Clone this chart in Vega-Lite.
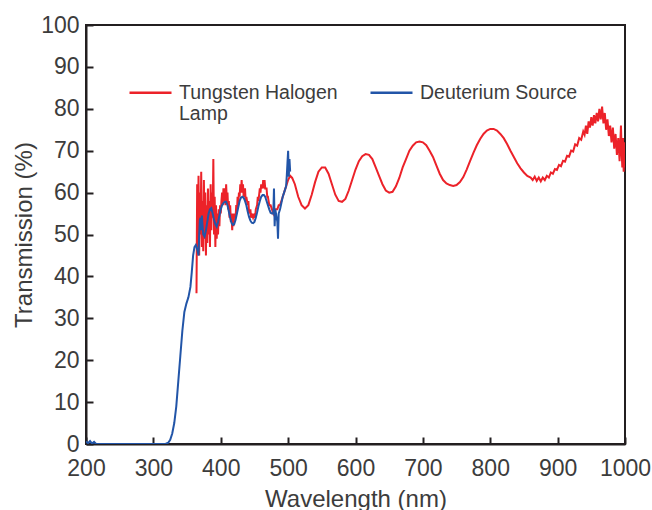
{
  "$schema": "https://vega.github.io/schema/vega-lite/v6.json",
  "autosize": {"type": "none"},
  "width": 539,
  "height": 419,
  "padding": {"left": 86, "top": 25, "right": 27, "bottom": 66},
  "background": "white",
  "config": {
    "view": {"stroke": "#231f20", "strokeWidth": 2},
    "font": "Liberation Sans"
  },
  "datasets": {
    "red": [
      {"w":364,"t":36},{"w":365,"t":62},{"w":366,"t":47},{"w":367,"t":64},{"w":368,"t":45},{"w":369,"t":60},{"w":370,"t":50},{"w":371,"t":65},{"w":372,"t":47},{"w":373,"t":58},{"w":374,"t":46},{"w":375,"t":63},{"w":376,"t":49},{"w":377,"t":60},{"w":378,"t":45},{"w":379,"t":57},{"w":380,"t":48},{"w":381,"t":61},{"w":382,"t":50},{"w":383,"t":58},{"w":384,"t":47},{"w":385,"t":62},{"w":386,"t":51},{"w":387,"t":60},{"w":388,"t":54},{"w":389,"t":68},{"w":390,"t":50},{"w":391,"t":59},{"w":392,"t":47},{"w":393,"t":57},{"w":394,"t":49},{"w":395,"t":55},{"w":396,"t":50},{"w":397,"t":56},{"w":398,"t":52},{"w":399,"t":57},{"w":400,"t":55},{"w":401,"t":58},
      {"w":402,"t":60},{"w":403,"t":57},{"w":404,"t":61},{"w":405,"t":58},{"w":406,"t":61},{"w":407,"t":57},{"w":408,"t":62},{"w":409,"t":58},{"w":410,"t":60},{"w":411,"t":56},{"w":412,"t":58},{"w":413,"t":54},{"w":414,"t":57},{"w":415,"t":53},{"w":416,"t":55},{"w":417,"t":51},{"w":418,"t":55},{"w":419,"t":52},{"w":420,"t":55},{"w":422,"t":54},{"w":423,"t":57},{"w":424,"t":55},{"w":425,"t":59},{"w":426,"t":57},{"w":427,"t":60},{"w":428,"t":59},{"w":429,"t":62},{"w":430,"t":60},{"w":431,"t":63},{"w":432,"t":60},{"w":433,"t":62},{"w":434,"t":59},{"w":436,"t":61},{"w":437,"t":58},{"w":438,"t":59},{"w":440,"t":57},{"w":441,"t":58},{"w":442,"t":55},{"w":444,"t":56},{"w":445,"t":54},{"w":446,"t":55},{"w":448,"t":54},{"w":450,"t":55},{"w":451,"t":54},{"w":452,"t":56},{"w":454,"t":57},{"w":455,"t":59},{"w":456,"t":58},{"w":458,"t":61},{"w":459,"t":60},{"w":460,"t":62},{"w":462,"t":61},{"w":463,"t":63},{"w":464,"t":61},{"w":465,"t":63},{"w":466,"t":61},{"w":468,"t":61},{"w":469,"t":59},{"w":470,"t":59},{"w":472,"t":57},{"w":474,"t":57},{"w":476,"t":56},{"w":478,"t":55},{"w":480,"t":56},{"w":482,"t":56},{"w":484,"t":56},{"w":486,"t":57},{"w":488,"t":57},{"w":490,"t":58},{"w":492,"t":59},{"w":494,"t":60},{"w":496,"t":61},{"w":498,"t":62},{"w":500,"t":63},
      {"w":503,"t":64},{"w":506,"t":63.5},{"w":510,"t":62},{"w":515,"t":59},{"w":520,"t":57},{"w":525,"t":56.2},{"w":530,"t":57},{"w":535,"t":59.5},{"w":540,"t":62.5},{"w":545,"t":65},{"w":550,"t":66},{"w":555,"t":66},{"w":560,"t":64.5},{"w":565,"t":62},{"w":570,"t":59.5},{"w":575,"t":58},{"w":580,"t":57.8},{"w":585,"t":58.5},{"w":590,"t":60.5},{"w":595,"t":63},{"w":600,"t":65.5},{"w":605,"t":67.5},{"w":610,"t":68.7},{"w":615,"t":69.2},{"w":620,"t":69},{"w":625,"t":68},{"w":630,"t":66},{"w":635,"t":64},{"w":640,"t":62},{"w":645,"t":60.5},{"w":650,"t":60},{"w":655,"t":60.2},{"w":660,"t":61.5},{"w":665,"t":63.5},{"w":670,"t":66},{"w":675,"t":68},{"w":680,"t":70},{"w":685,"t":71.2},{"w":690,"t":72},{"w":695,"t":72.2},{"w":700,"t":72},{"w":705,"t":71.3},{"w":710,"t":70},{"w":715,"t":68.5},{"w":720,"t":66.5},{"w":725,"t":64.5},{"w":730,"t":63},{"w":735,"t":62.2},{"w":740,"t":61.8},{"w":745,"t":61.6},{"w":750,"t":61.8},{"w":755,"t":62.5},{"w":760,"t":63.7},{"w":765,"t":65.5},{"w":770,"t":67.5},{"w":775,"t":69.5},{"w":780,"t":71.3},{"w":785,"t":72.8},{"w":790,"t":74},{"w":795,"t":74.8},{"w":800,"t":75.2},{"w":805,"t":75.2},{"w":810,"t":74.8},{"w":815,"t":74},{"w":820,"t":73},{"w":825,"t":71.6},{"w":830,"t":70},{"w":835,"t":68.5},{"w":840,"t":67},{"w":845,"t":65.8},{"w":850,"t":64.8},{"w":855,"t":64},{"w":860,"t":63.6},{"w":863,"t":63},{"w":866,"t":63.8},{"w":869,"t":62.8},{"w":872,"t":63.6},{"w":875,"t":62.7},{"w":878,"t":63.6},{"w":881,"t":63},{"w":884,"t":64},{"w":887,"t":63.6},{"w":890,"t":64.8},{"w":893,"t":64.5},{"w":896,"t":65.6},{"w":899,"t":65.4},{"w":902,"t":66.6},{"w":905,"t":66.3},{"w":908,"t":67.6},{"w":911,"t":67.4},{"w":914,"t":68.8},{"w":917,"t":68.6},{"w":920,"t":70},{"w":923,"t":69.8},{"w":926,"t":71.5},{"w":929,"t":71.2},{"w":932,"t":73},{"w":935,"t":72.6},{"w":938,"t":74.6},{"w":940,"t":73.8},
      {"w":942,"t":76},{"w":944,"t":74},{"w":946,"t":77},{"w":948,"t":75.5},{"w":950,"t":78},{"w":952,"t":76},{"w":954,"t":78.5},{"w":956,"t":76.5},{"w":958,"t":79},{"w":960,"t":77},{"w":962,"t":80},{"w":964,"t":77.5},{"w":966,"t":80.5},{"w":968,"t":76.5},{"w":970,"t":79},{"w":972,"t":75},{"w":974,"t":77.5},{"w":976,"t":73.5},{"w":978,"t":76},{"w":980,"t":72},{"w":982,"t":75.5},{"w":984,"t":70.5},{"w":986,"t":74},{"w":988,"t":69},{"w":990,"t":73},{"w":992,"t":67.5},{"w":994,"t":76},{"w":995,"t":70},{"w":996,"t":66},{"w":997,"t":73},{"w":998,"t":65},{"w":999,"t":72},{"w":1000,"t":66}
    ],
    "blue": [
      {"w":200,"t":0.6},{"w":203,"t":0.2},{"w":206,"t":0.7},{"w":209,"t":0.1},{"w":212,"t":0.5},{"w":215,"t":0},{"w":220,"t":0},{"w":300,"t":0},{"w":318,"t":0},{"w":322,"t":0.3},{"w":325,"t":1},{"w":328,"t":2.5},{"w":331,"t":5},{"w":334,"t":9},{"w":337,"t":15},{"w":340,"t":21},{"w":343,"t":27},{"w":346,"t":31.5},{"w":349,"t":33.5},{"w":352,"t":35},{"w":355,"t":37.5},{"w":357,"t":41},{"w":359,"t":45},{"w":361,"t":47},{"w":363,"t":47.5},{"w":365,"t":46.5},{"w":367,"t":45},{"w":368,"t":50},{"w":369,"t":53.5},{"w":370,"t":54},{"w":371,"t":51},{"w":372,"t":54.5},{"w":373,"t":52},{"w":374,"t":50},{"w":376,"t":49.5},{"w":378,"t":51},{"w":380,"t":53},{"w":382,"t":55},{"w":384,"t":56},{"w":386,"t":56.3},{"w":388,"t":55},{"w":390,"t":53.5},{"w":392,"t":52.5},{"w":394,"t":51.9},{"w":396,"t":53},{"w":398,"t":54.5},{"w":400,"t":56},{"w":402,"t":57},{"w":404,"t":57.5},{"w":406,"t":57.8},{"w":408,"t":57.8},{"w":410,"t":57},{"w":412,"t":55.5},{"w":414,"t":54},{"w":416,"t":52.8},{"w":418,"t":52.3},{"w":420,"t":52.5},{"w":422,"t":53.5},{"w":424,"t":55},{"w":426,"t":56.5},{"w":428,"t":58},{"w":430,"t":58.8},{"w":432,"t":59},{"w":434,"t":58.8},{"w":436,"t":58},{"w":438,"t":57},{"w":440,"t":55.5},{"w":442,"t":54.2},{"w":444,"t":53.3},{"w":446,"t":52.8},{"w":448,"t":52.7},{"w":450,"t":53},{"w":452,"t":54},{"w":454,"t":55.3},{"w":456,"t":56.8},{"w":458,"t":58},{"w":460,"t":59},{"w":462,"t":59.4},{"w":464,"t":59.4},{"w":466,"t":59},{"w":468,"t":58},{"w":470,"t":57},{"w":472,"t":56},{"w":474,"t":55.2},{"w":476,"t":55},{"w":478,"t":55},{"w":479,"t":61},{"w":480,"t":52},{"w":481,"t":56},{"w":482,"t":55},{"w":484,"t":53},{"w":485,"t":49},{"w":486,"t":55},{"w":488,"t":56},{"w":490,"t":57.5},{"w":492,"t":59},{"w":494,"t":60},{"w":496,"t":61},{"w":497,"t":61.5},{"w":498,"t":64},{"w":499,"t":67},{"w":500,"t":70},{"w":501,"t":63.8},{"w":502,"t":68},{"w":503,"t":65}
    ]
  },
  "encoding": {
    "x": {
      "field": "w", "type": "quantitative",
      "scale": {"domain": [200, 1000], "nice": false, "zero": false},
      "axis": {
        "title": "Wavelength (nm)", "values": [200,300,400,500,600,700,800,900,1000], "format": "d",
        "grid": false, "domainColor": "#231f20", "domainWidth": 2, "tickColor": "#231f20", "tickWidth": 2, "tickSize": -7,
        "labelFont": "Liberation Sans", "labelFontSize": 23, "labelColor": "#3c3c3c", "labelPadding": 20, "labelFlush": false,
        "titleFont": "Liberation Sans", "titleFontSize": 24, "titleFontWeight": "normal", "titleColor": "#3c3c3c", "titlePadding": 7
      }
    },
    "y": {
      "field": "t", "type": "quantitative",
      "scale": {"domain": [0, 100], "nice": false},
      "axis": {
        "title": "Transmission (%)", "values": [0,10,20,30,40,50,60,70,80,90,100],
        "grid": false, "domainColor": "#231f20", "domainWidth": 2, "tickColor": "#231f20", "tickWidth": 2, "tickSize": -7,
        "labelFont": "Liberation Sans", "labelFontSize": 23, "labelColor": "#3c3c3c", "labelPadding": 14, "labelFlush": false,
        "titleFont": "Liberation Sans", "titleFontSize": 24, "titleFontWeight": "normal", "titleColor": "#3c3c3c", "titlePadding": 4
      }
    },
    "color": {
      "datum": "Tungsten Halogen Lamp", "type": "nominal",
      "scale": {"domain": ["Tungsten Halogen Lamp", "Deuterium Source"], "range": ["#ec2229", "#2255a8"]},
      "legend": {
        "title": null, "orient": "none", "legendX": 42, "legendY": 45, "direction": "horizontal", "columns": 2,
        "symbolType": "stroke", "symbolSize": 1764, "symbolStrokeWidth": 2.5, "labelOffset": 6, "columnPadding": 27,
        "labelFont": "Liberation Sans", "labelFontSize": 19.5, "labelColor": "#3c3c3c", "labelBaseline": "middle", "labelLimit": 300, "padding": 0,
        "labelExpr": "datum.label == 'Tungsten Halogen Lamp' ? ['Tungsten Halogen', 'Lamp'] : [datum.label, ' ']"
      }
    }
  },
  "layer": [
    {"data": {"name": "red"}, "mark": {"type": "line", "strokeWidth": 2, "clip": true}},
    {"data": {"name": "blue"}, "mark": {"type": "line", "strokeWidth": 2, "clip": true},
     "encoding": {"color": {"datum": "Deuterium Source", "type": "nominal"}}}
  ]
}
